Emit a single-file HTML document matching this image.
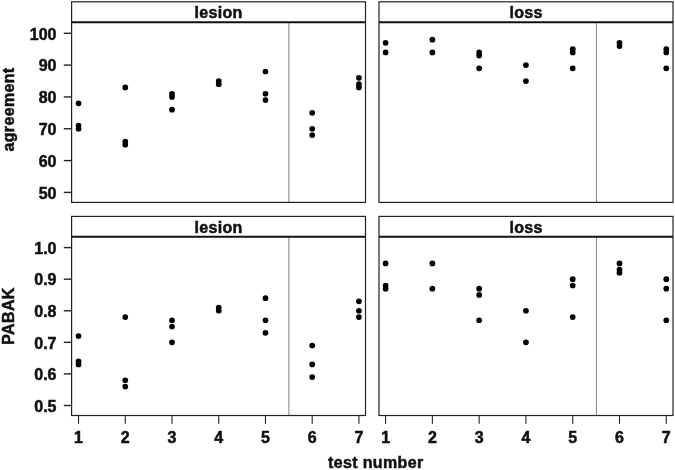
<!DOCTYPE html>
<html><head><meta charset="utf-8"><title>agreement and PABAK by test number</title>
<style>
html,body{margin:0;padding:0;background:#fff;}
body{width:675px;height:470px;overflow:hidden;}
svg{display:block;}
text{font-family:"Liberation Sans",Arial,Helvetica,sans-serif;font-weight:bold;fill:#111;stroke:#111;stroke-width:0.5px;}
.t{font-size:16px;}
.a{font-size:16px;letter-spacing:0.35px;}
.s{font-size:16px;letter-spacing:0.3px;}
</style></head><body>
<svg width="675" height="470" viewBox="0 0 675 470">
<rect width="675" height="470" fill="#fff"/>
<line x1="288.90" y1="22.3" x2="288.90" y2="202.4" stroke="#909090" stroke-width="1.15"/>
<rect x="71.6" y="1.8" width="293.9" height="200.6" fill="none" stroke="#222" stroke-width="1.2"/>
<line x1="71.6" y1="22.3" x2="365.5" y2="22.3" stroke="#111" stroke-width="1.9"/>
<text x="218.55" y="18.10" text-anchor="middle" class="s">lesion</text>
<circle cx="78.55" cy="103.30" r="2.85" fill="#000"/>
<circle cx="78.55" cy="125.58" r="2.85" fill="#000"/>
<circle cx="78.55" cy="128.76" r="2.85" fill="#000"/>
<circle cx="125.28" cy="87.39" r="2.85" fill="#000"/>
<circle cx="125.28" cy="141.49" r="2.85" fill="#000"/>
<circle cx="125.28" cy="144.67" r="2.85" fill="#000"/>
<circle cx="172.01" cy="93.76" r="2.85" fill="#000"/>
<circle cx="172.01" cy="96.94" r="2.85" fill="#000"/>
<circle cx="172.01" cy="109.67" r="2.85" fill="#000"/>
<circle cx="218.74" cy="81.03" r="2.85" fill="#000"/>
<circle cx="218.74" cy="84.21" r="2.85" fill="#000"/>
<circle cx="265.47" cy="71.48" r="2.85" fill="#000"/>
<circle cx="265.47" cy="93.76" r="2.85" fill="#000"/>
<circle cx="265.47" cy="100.12" r="2.85" fill="#000"/>
<circle cx="312.20" cy="112.85" r="2.85" fill="#000"/>
<circle cx="312.20" cy="128.76" r="2.85" fill="#000"/>
<circle cx="312.20" cy="135.12" r="2.85" fill="#000"/>
<circle cx="358.93" cy="77.85" r="2.85" fill="#000"/>
<circle cx="358.93" cy="84.21" r="2.85" fill="#000"/>
<circle cx="358.93" cy="87.39" r="2.85" fill="#000"/>
<line x1="596.45" y1="22.3" x2="596.45" y2="202.4" stroke="#8a8a8a" stroke-width="1.05"/>
<rect x="379.0" y="1.8" width="294.0" height="200.6" fill="none" stroke="#222" stroke-width="1.2"/>
<line x1="379.0" y1="22.3" x2="673.0" y2="22.3" stroke="#111" stroke-width="1.9"/>
<text x="526.00" y="18.10" text-anchor="middle" class="s">loss</text>
<circle cx="385.60" cy="42.85" r="2.85" fill="#000"/>
<circle cx="385.60" cy="52.39" r="2.85" fill="#000"/>
<circle cx="432.38" cy="39.66" r="2.85" fill="#000"/>
<circle cx="432.38" cy="52.39" r="2.85" fill="#000"/>
<circle cx="479.16" cy="52.39" r="2.85" fill="#000"/>
<circle cx="479.16" cy="55.57" r="2.85" fill="#000"/>
<circle cx="479.16" cy="68.30" r="2.85" fill="#000"/>
<circle cx="525.94" cy="65.12" r="2.85" fill="#000"/>
<circle cx="525.94" cy="81.03" r="2.85" fill="#000"/>
<circle cx="572.72" cy="49.21" r="2.85" fill="#000"/>
<circle cx="572.72" cy="52.39" r="2.85" fill="#000"/>
<circle cx="572.72" cy="68.30" r="2.85" fill="#000"/>
<circle cx="619.50" cy="42.85" r="2.85" fill="#000"/>
<circle cx="619.50" cy="46.03" r="2.85" fill="#000"/>
<circle cx="666.28" cy="49.21" r="2.85" fill="#000"/>
<circle cx="666.28" cy="52.39" r="2.85" fill="#000"/>
<circle cx="666.28" cy="68.30" r="2.85" fill="#000"/>
<line x1="288.90" y1="236.8" x2="288.90" y2="415.5" stroke="#909090" stroke-width="1.15"/>
<rect x="71.6" y="216.4" width="293.9" height="199.1" fill="none" stroke="#222" stroke-width="1.2"/>
<line x1="71.6" y1="236.8" x2="365.5" y2="236.8" stroke="#111" stroke-width="1.9"/>
<text x="218.55" y="232.70" text-anchor="middle" class="s">lesion</text>
<circle cx="78.55" cy="336.02" r="2.85" fill="#000"/>
<circle cx="78.55" cy="361.29" r="2.85" fill="#000"/>
<circle cx="78.55" cy="364.45" r="2.85" fill="#000"/>
<circle cx="125.28" cy="317.08" r="2.85" fill="#000"/>
<circle cx="125.28" cy="380.24" r="2.85" fill="#000"/>
<circle cx="125.28" cy="386.55" r="2.85" fill="#000"/>
<circle cx="172.01" cy="320.23" r="2.85" fill="#000"/>
<circle cx="172.01" cy="326.55" r="2.85" fill="#000"/>
<circle cx="172.01" cy="342.34" r="2.85" fill="#000"/>
<circle cx="218.74" cy="307.60" r="2.85" fill="#000"/>
<circle cx="218.74" cy="310.76" r="2.85" fill="#000"/>
<circle cx="265.47" cy="298.13" r="2.85" fill="#000"/>
<circle cx="265.47" cy="320.23" r="2.85" fill="#000"/>
<circle cx="265.47" cy="332.87" r="2.85" fill="#000"/>
<circle cx="312.20" cy="345.50" r="2.85" fill="#000"/>
<circle cx="312.20" cy="364.45" r="2.85" fill="#000"/>
<circle cx="312.20" cy="377.08" r="2.85" fill="#000"/>
<circle cx="358.93" cy="301.29" r="2.85" fill="#000"/>
<circle cx="358.93" cy="310.76" r="2.85" fill="#000"/>
<circle cx="358.93" cy="317.08" r="2.85" fill="#000"/>
<line x1="596.45" y1="236.8" x2="596.45" y2="415.5" stroke="#8a8a8a" stroke-width="1.05"/>
<rect x="379.0" y="216.4" width="294.0" height="199.1" fill="none" stroke="#222" stroke-width="1.2"/>
<line x1="379.0" y1="236.8" x2="673.0" y2="236.8" stroke="#111" stroke-width="1.9"/>
<text x="526.00" y="232.70" text-anchor="middle" class="s">loss</text>
<circle cx="385.60" cy="263.39" r="2.85" fill="#000"/>
<circle cx="385.60" cy="285.50" r="2.85" fill="#000"/>
<circle cx="385.60" cy="288.65" r="2.85" fill="#000"/>
<circle cx="432.38" cy="263.39" r="2.85" fill="#000"/>
<circle cx="432.38" cy="288.65" r="2.85" fill="#000"/>
<circle cx="479.16" cy="288.65" r="2.85" fill="#000"/>
<circle cx="479.16" cy="294.97" r="2.85" fill="#000"/>
<circle cx="479.16" cy="320.23" r="2.85" fill="#000"/>
<circle cx="525.94" cy="310.76" r="2.85" fill="#000"/>
<circle cx="525.94" cy="342.34" r="2.85" fill="#000"/>
<circle cx="572.72" cy="279.18" r="2.85" fill="#000"/>
<circle cx="572.72" cy="285.50" r="2.85" fill="#000"/>
<circle cx="572.72" cy="317.08" r="2.85" fill="#000"/>
<circle cx="619.50" cy="263.39" r="2.85" fill="#000"/>
<circle cx="619.50" cy="269.71" r="2.85" fill="#000"/>
<circle cx="619.50" cy="272.86" r="2.85" fill="#000"/>
<circle cx="666.28" cy="279.18" r="2.85" fill="#000"/>
<circle cx="666.28" cy="288.65" r="2.85" fill="#000"/>
<circle cx="666.28" cy="320.23" r="2.85" fill="#000"/>
<line x1="63.8" y1="33.30" x2="71.6" y2="33.30" stroke="#222" stroke-width="1.4"/>
<text x="56.5" y="39.60" text-anchor="end" class="t">100</text>
<line x1="63.8" y1="65.12" x2="71.6" y2="65.12" stroke="#222" stroke-width="1.4"/>
<text x="56.5" y="71.42" text-anchor="end" class="t">90</text>
<line x1="63.8" y1="96.94" x2="71.6" y2="96.94" stroke="#222" stroke-width="1.4"/>
<text x="56.5" y="103.24" text-anchor="end" class="t">80</text>
<line x1="63.8" y1="128.76" x2="71.6" y2="128.76" stroke="#222" stroke-width="1.4"/>
<text x="56.5" y="135.06" text-anchor="end" class="t">70</text>
<line x1="63.8" y1="160.58" x2="71.6" y2="160.58" stroke="#222" stroke-width="1.4"/>
<text x="56.5" y="166.88" text-anchor="end" class="t">60</text>
<line x1="63.8" y1="192.40" x2="71.6" y2="192.40" stroke="#222" stroke-width="1.4"/>
<text x="56.5" y="198.70" text-anchor="end" class="t">50</text>
<line x1="63.8" y1="247.60" x2="71.6" y2="247.60" stroke="#222" stroke-width="1.4"/>
<text x="56.5" y="253.90" text-anchor="end" class="t">1.0</text>
<line x1="63.8" y1="279.18" x2="71.6" y2="279.18" stroke="#222" stroke-width="1.4"/>
<text x="56.5" y="285.48" text-anchor="end" class="t">0.9</text>
<line x1="63.8" y1="310.76" x2="71.6" y2="310.76" stroke="#222" stroke-width="1.4"/>
<text x="56.5" y="317.06" text-anchor="end" class="t">0.8</text>
<line x1="63.8" y1="342.34" x2="71.6" y2="342.34" stroke="#222" stroke-width="1.4"/>
<text x="56.5" y="348.64" text-anchor="end" class="t">0.7</text>
<line x1="63.8" y1="373.92" x2="71.6" y2="373.92" stroke="#222" stroke-width="1.4"/>
<text x="56.5" y="380.22" text-anchor="end" class="t">0.6</text>
<line x1="63.8" y1="405.50" x2="71.6" y2="405.50" stroke="#222" stroke-width="1.4"/>
<text x="56.5" y="411.80" text-anchor="end" class="t">0.5</text>
<line x1="78.55" y1="415.5" x2="78.55" y2="423.8" stroke="#222" stroke-width="1.1"/>
<text x="78.55" y="443.00" text-anchor="middle" class="t">1</text>
<line x1="385.60" y1="415.5" x2="385.60" y2="423.8" stroke="#222" stroke-width="1.1"/>
<text x="385.60" y="443.00" text-anchor="middle" class="t">1</text>
<line x1="125.28" y1="415.5" x2="125.28" y2="423.8" stroke="#222" stroke-width="1.1"/>
<text x="125.28" y="443.00" text-anchor="middle" class="t">2</text>
<line x1="432.38" y1="415.5" x2="432.38" y2="423.8" stroke="#222" stroke-width="1.1"/>
<text x="432.38" y="443.00" text-anchor="middle" class="t">2</text>
<line x1="172.01" y1="415.5" x2="172.01" y2="423.8" stroke="#222" stroke-width="1.1"/>
<text x="172.01" y="443.00" text-anchor="middle" class="t">3</text>
<line x1="479.16" y1="415.5" x2="479.16" y2="423.8" stroke="#222" stroke-width="1.1"/>
<text x="479.16" y="443.00" text-anchor="middle" class="t">3</text>
<line x1="218.74" y1="415.5" x2="218.74" y2="423.8" stroke="#222" stroke-width="1.1"/>
<text x="218.74" y="443.00" text-anchor="middle" class="t">4</text>
<line x1="525.94" y1="415.5" x2="525.94" y2="423.8" stroke="#222" stroke-width="1.1"/>
<text x="525.94" y="443.00" text-anchor="middle" class="t">4</text>
<line x1="265.47" y1="415.5" x2="265.47" y2="423.8" stroke="#222" stroke-width="1.1"/>
<text x="265.47" y="443.00" text-anchor="middle" class="t">5</text>
<line x1="572.72" y1="415.5" x2="572.72" y2="423.8" stroke="#222" stroke-width="1.1"/>
<text x="572.72" y="443.00" text-anchor="middle" class="t">5</text>
<line x1="312.20" y1="415.5" x2="312.20" y2="423.8" stroke="#222" stroke-width="1.1"/>
<text x="312.20" y="443.00" text-anchor="middle" class="t">6</text>
<line x1="619.50" y1="415.5" x2="619.50" y2="423.8" stroke="#222" stroke-width="1.1"/>
<text x="619.50" y="443.00" text-anchor="middle" class="t">6</text>
<line x1="358.93" y1="415.5" x2="358.93" y2="423.8" stroke="#222" stroke-width="1.1"/>
<text x="358.93" y="443.00" text-anchor="middle" class="t">7</text>
<line x1="666.28" y1="415.5" x2="666.28" y2="423.8" stroke="#222" stroke-width="1.1"/>
<text x="666.28" y="443.00" text-anchor="middle" class="t">7</text>
<text x="375.8" y="467.8" text-anchor="middle" class="a">test number</text>
<text transform="translate(14.1,109.5) rotate(-90)" text-anchor="middle" class="a">agreement</text>
<text transform="translate(14.3,316) rotate(-90)" text-anchor="middle" class="a">PABAK</text>
</svg>
</body></html>
